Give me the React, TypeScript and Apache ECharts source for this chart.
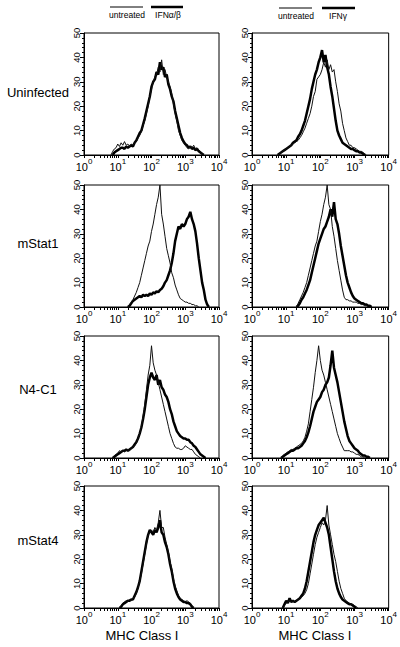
import React, { useEffect, useRef } from "react";
import * as echarts from "echarts";

// Channel width, in decades of fluorescence (x axis is log10 of MHC Class I).
const STEP = 0.05;

const rowLabels = ["Uninfected", "mStat1", "N4-C1", "mStat4"];
const xTickExponents = [0, 1, 2, 3, 4];
const yTicks = [0, 10, 20, 30, 40, 50];
const legendLeft = ["untreated", "IFNα/β"];
const legendRight = ["untreated", "IFNγ"];
const xTitle = "MHC Class I";

// Histogram counts; each array starts at channel index given by its *Start constant.
const uninfAB_untreatedStart = 16;
const uninfAB_untreated = [0, 1.5, 2.5, 3, 4.5, 3.5, 5, 4, 5.5, 4, 4.5, 3.5, 4.5, 4, 5, 5.5, 7, 8, 9.5, 12, 14, 17, 20, 24, 27, 30, 32, 33, 36, 34, 39, 33, 35, 32, 30, 28, 25, 21, 17, 14, 10, 8, 6, 5, 4, 3, 2.5, 3.5, 3, 4, 2.5, 3, 2, 1.5, 0.5, 0];
const uninfAB_treatedStart = 17;
const uninfAB_treated = [0, 1, 1.5, 2, 2.5, 3, 3, 2.5, 3.5, 3, 3.5, 4, 3.5, 5, 6, 7.5, 9, 10, 12.5, 15, 18, 21, 24, 28, 30, 31, 34, 33, 38, 35, 36, 32, 33, 29, 27, 24, 22, 18, 15, 12, 9, 7, 5.5, 4.5, 4, 3, 3.5, 2.5, 3, 2, 2.5, 1.5, 1, 0.5, 0];

const uninfG_untreatedStart = 15;
const uninfG_untreated = [0, 0.5, 1, 1.5, 2, 2.5, 3, 3.5, 4, 4.5, 5, 5.5, 6, 7, 8, 9.5, 11, 13, 15, 17, 20, 24, 26, 31, 32, 33, 35, 38, 36, 39, 35, 37, 34, 35, 30, 26, 21, 18, 13, 10, 7, 5.5, 4, 4, 3, 3, 2.5, 2, 1.5, 1.5, 1, 0.5, 0];
const uninfG_treatedStart = 15;
const uninfG_treated = [0, 0.5, 1, 1.5, 2, 2.5, 3, 3.5, 4, 5, 5.5, 6, 7.5, 8.5, 10, 12, 14, 17, 20, 23, 27, 30, 33, 35, 38, 40, 43, 38, 41, 36, 33, 28, 24, 19, 14, 10, 8, 6.5, 5, 4.5, 4, 3.5, 3, 2.5, 2.5, 2, 1.5, 1.5, 1, 1, 0.5, 0];

const stat1AB_untreatedStart = 26;
const stat1AB_untreated = [0, 1, 2, 3, 4.5, 6, 8, 10, 13, 16, 19, 22, 25, 27, 31, 34, 38, 42, 45, 50, 38, 34, 29, 24, 21, 18, 14, 12, 9, 7, 5, 3.5, 3, 2.5, 2, 2, 1.5, 1.5, 1, 1, 0.5, 0.5, 0];
const stat1AB_treatedStart = 26;
const stat1AB_treated = [0, 0.5, 1.5, 2.5, 3, 3.5, 4, 4.5, 4, 5, 4.5, 5, 4.5, 5.5, 5, 6, 5.5, 6.5, 6, 7, 7.5, 8.5, 10, 11, 13, 15, 18, 22, 27, 30, 33, 32, 34, 33, 34, 36, 37, 39, 36, 34, 31, 26, 20, 15, 10, 7, 3, 1, 0];

const stat1G_untreatedStart = 26;
const stat1G_untreated = [0, 1.5, 3, 4.5, 6, 8, 10, 13, 16, 19, 22, 25, 27, 31, 35, 38, 42, 45, 50, 42, 40, 33, 29, 24, 19, 15, 11, 7, 4, 3, 3, 2.5, 2.5, 2, 2, 2, 1.5, 1.5, 1, 1, 0.5, 0.5, 0];
const stat1G_treatedStart = 26;
const stat1G_treated = [0, 0.5, 1.5, 3, 4, 5.5, 7, 9, 11, 14, 17, 20, 23, 26, 28, 30, 32, 33, 35, 37, 40, 37, 43, 36, 34, 30, 25, 21, 17, 13, 10, 8, 6, 4.5, 3.5, 3, 2.5, 2, 1.5, 1.5, 1, 1, 0.5, 0.5, 0];

const n4AB_untreatedStart = 17;
const n4AB_untreated = [0, 1, 1.5, 2, 3, 2.5, 3, 2.5, 3, 3.5, 3, 4, 4.5, 5, 6, 8, 10, 13, 17, 22, 28, 34, 38, 46, 39, 36, 34, 31, 28, 25, 22, 19, 16, 13, 10, 8, 6, 4.5, 4, 4, 3.5, 3.5, 4, 5, 4.5, 4, 3.5, 3.5, 2.5, 1.5, 1, 0.5, 0];
const n4AB_treatedStart = 17;
const n4AB_treated = [0, 0.5, 1, 1.5, 2, 2.5, 3, 3, 3.5, 3, 3.5, 4, 4.5, 5.5, 6.5, 8, 10, 12.5, 16, 20, 25, 30, 33, 35, 33, 32, 34, 30, 32, 29, 28, 26, 25, 23, 20, 18, 15, 13, 11, 10, 9, 8.5, 8, 8, 7.5, 7.5, 6.5, 6, 5, 4.5, 3.5, 2.5, 1.5, 1, 0.5, 0];

const n4G_untreatedStart = 17;
const n4G_untreated = [0, 1, 1.5, 2, 2.5, 3, 3.5, 3.5, 4, 4.5, 5, 5.5, 6, 7, 8.5, 11, 14, 19, 24, 29, 35, 40, 46, 40, 36, 34, 31, 28, 25, 22, 19, 16, 13, 10, 8, 6, 4.5, 3, 3, 3, 3, 2.5, 2.5, 2, 1.5, 1.5, 1, 0.5, 0.5, 0];
const n4G_treatedStart = 17;
const n4G_treated = [0, 0.5, 1, 1.5, 2, 2.5, 3, 3, 3.5, 4, 4, 4.5, 5, 6, 7, 8.5, 10.5, 13, 16, 19, 21, 23, 24, 25, 27, 28, 30, 31, 33, 38, 44, 37, 34, 31, 27, 23, 19, 15, 12, 9, 7, 6, 5, 4, 3.5, 3, 2, 1.5, 1, 1, 0.5, 0.5, 0];

const stat4AB_untreatedStart = 21;
const stat4AB_untreated = [0, 1, 2, 2.5, 3, 2.5, 3.5, 3, 4, 4.5, 6, 8, 11, 14, 18, 22, 26, 30, 31, 32, 31, 33, 32, 35, 40, 33, 33, 29, 26, 23, 19, 16, 12, 9, 7, 5, 4, 3.5, 3, 2.5, 3, 2.5, 2, 1, 0];
const stat4AB_treatedStart = 21;
const stat4AB_treated = [0, 0.5, 1.5, 2, 2.5, 3, 3, 3.5, 3.5, 5, 6.5, 8.5, 11, 15, 19, 23, 27, 30, 32, 31, 30, 32, 31, 33, 36, 31, 30, 27, 25, 22, 18, 15, 11, 8, 6, 4.5, 3.5, 3, 2.5, 2.5, 2, 2, 1.5, 0.5, 0];

const stat4G_untreatedStart = 18;
const stat4G_untreated = [0, 1, 2, 2.5, 3, 2.5, 3, 2.5, 3, 3.5, 4, 4.5, 5, 6, 7.5, 10, 14, 18, 22, 26, 29, 31, 33, 35, 34, 36, 42, 34, 30, 26, 22, 19, 15, 11, 8, 6, 4, 3, 2.5, 2, 1.5, 1.5, 1, 0.5, 0];
const stat4G_treatedStart = 18;
const stat4G_treated = [0, 1.5, 3, 2, 4, 2.5, 3, 2.5, 3, 3.5, 4, 5, 6, 8, 11, 15, 19, 23, 27, 30, 32, 34, 35, 36, 37, 35, 33, 30, 25, 20, 15, 11, 8, 6, 4.5, 3.5, 3, 2.5, 2, 1.5, 1.5, 1, 0.5, 0];

const panels = [
  { row: 0, col: 0, thin: uninfAB_untreated, thinStart: uninfAB_untreatedStart, thick: uninfAB_treated, thickStart: uninfAB_treatedStart },
  { row: 0, col: 1, thin: uninfG_untreated, thinStart: uninfG_untreatedStart, thick: uninfG_treated, thickStart: uninfG_treatedStart },
  { row: 1, col: 0, thin: stat1AB_untreated, thinStart: stat1AB_untreatedStart, thick: stat1AB_treated, thickStart: stat1AB_treatedStart },
  { row: 1, col: 1, thin: stat1G_untreated, thinStart: stat1G_untreatedStart, thick: stat1G_treated, thickStart: stat1G_treatedStart },
  { row: 2, col: 0, thin: n4AB_untreated, thinStart: n4AB_untreatedStart, thick: n4AB_treated, thickStart: n4AB_treatedStart },
  { row: 2, col: 1, thin: n4G_untreated, thinStart: n4G_untreatedStart, thick: n4G_treated, thickStart: n4G_treatedStart },
  { row: 3, col: 0, thin: stat4AB_untreated, thinStart: stat4AB_untreatedStart, thick: stat4AB_treated, thickStart: stat4AB_treatedStart },
  { row: 3, col: 1, thin: stat4G_untreated, thinStart: stat4G_untreatedStart, thick: stat4G_treated, thickStart: stat4G_treatedStart },
];

const FONT = "'Liberation Sans', Arial, sans-serif";
const colLeft = [84, 252];
const colWidth = [135, 139];
const rowTop = [33, 185, 336, 486];
const rowHeight = 122;

function toPoints(values: number[], start: number) {
  return values.map((v, k) => [(start + k) * STEP, v]);
}

// log-decade tick positions (1..9 x 10^n)
const logTickPositions: number[] = [];
for (let n = 0; n < 4; n++) {
  for (let k = 1; k <= 9; k++) logTickPositions.push(n + Math.log10(k));
}
logTickPositions.push(4);

export default function App() {
  const ref = useRef<HTMLDivElement>(null);
  useEffect(() => {
    document.body.style.margin = "0";
    const chart = echarts.init(ref.current!, null, { renderer: "svg" });
    const grid: any[] = [];
    const xAxis: any[] = [];
    const yAxis: any[] = [];
    const series: any[] = [];
    panels.forEach((p, i) => {
      grid.push({
        left: colLeft[p.col],
        top: rowTop[p.row],
        width: colWidth[p.col],
        height: rowHeight,
        show: true,
        borderColor: "#000",
        borderWidth: 1,
        backgroundColor: "transparent",
        containLabel: false,
      });
      xAxis.push({
        type: "value",
        gridIndex: i,
        min: 0,
        max: 4,
        interval: 1,
        axisLine: { show: true, onZero: false, lineStyle: { color: "#000", width: 1 } },
        axisTick: { show: true, inside: false, length: 3, customValues: logTickPositions, lineStyle: { color: "#000", width: 1 } },
        axisLabel: {
          show: true,
          margin: 2,
          color: "#000",
          formatter: (v: number) => `{b|10}{s|${xTickExponents[Math.round(v)]}}`,
          rich: {
            b: { fontSize: 11, fontFamily: FONT, color: "#000", verticalAlign: "bottom", lineHeight: 15 },
            s: { fontSize: 8, fontFamily: FONT, color: "#000", verticalAlign: "top", lineHeight: 15 },
          },
        },
        splitLine: { show: false },
      });
      yAxis.push({
        type: "value",
        gridIndex: i,
        min: yTicks[0],
        max: yTicks[yTicks.length - 1],
        interval: 10,
        axisLine: { show: true, lineStyle: { color: "#000", width: 1 } },
        axisTick: { show: true, length: 4, lineStyle: { color: "#000", width: 1 } },
        minorTick: { show: true, splitNumber: 5, length: 2, lineStyle: { color: "#000", width: 1 } },
        axisLabel: { show: true, rotate: 90, fontSize: 9.5, fontFamily: FONT, color: "#000", margin: 3 },
        splitLine: { show: false },
        minorSplitLine: { show: false },
      });
      series.push({
        type: "line",
        xAxisIndex: i,
        yAxisIndex: i,
        data: toPoints(p.thick, p.thickStart),
        showSymbol: false,
        symbol: "none",
        lineStyle: { color: "#000", width: 2.5 },
        z: 2,
      });
      series.push({
        type: "line",
        xAxisIndex: i,
        yAxisIndex: i,
        data: toPoints(p.thin, p.thinStart),
        showSymbol: false,
        symbol: "none",
        lineStyle: { color: "#111", width: 1 },
        z: 3,
      });
    });

    const graphic: any[] = [];
    const rowLabelY = [92, 243, 389, 540];
    rowLabels.forEach((t, r) => {
      graphic.push({
        type: "text",
        x: 38,
        y: rowLabelY[r],
        style: { text: t, font: `13px ${FONT}`, fill: "#000", align: "center", verticalAlign: "middle" },
      });
    });
    // legends
    const legendDefs = [
      { labels: legendLeft, thin: [110, 143], thick: [151, 183], textX: [127, 168], y: 7 },
      { labels: legendRight, thin: [279, 312], thick: [322, 355], textX: [296, 338], y: 8 },
    ];
    legendDefs.forEach((d) => {
      graphic.push({ type: "line", shape: { x1: d.thin[0], y1: d.y, x2: d.thin[1], y2: d.y }, style: { stroke: "#000", lineWidth: 1 } });
      graphic.push({ type: "line", shape: { x1: d.thick[0], y1: d.y, x2: d.thick[1], y2: d.y }, style: { stroke: "#000", lineWidth: 2.5 } });
      d.labels.forEach((t, k) => {
        graphic.push({
          type: "text",
          x: d.textX[k],
          y: d.y + 8,
          style: { text: t, font: `8.5px ${FONT}`, fill: "#000", align: "center", verticalAlign: "middle" },
        });
      });
    });
    // x axis titles
    [142, 315].forEach((cx) => {
      graphic.push({
        type: "text",
        x: cx,
        y: 635,
        style: { text: xTitle, font: `13px ${FONT}`, fill: "#000", align: "center", verticalAlign: "middle" },
      });
    });

    chart.setOption({
      animation: false,
      backgroundColor: "#fff",
      grid,
      xAxis,
      yAxis,
      series,
      graphic,
    });
    return () => chart.dispose();
  }, []);
  return <div ref={ref} style={{ position: "fixed", left: 0, top: 0, width: 400, height: 647, background: "#fff" }} />;
}
